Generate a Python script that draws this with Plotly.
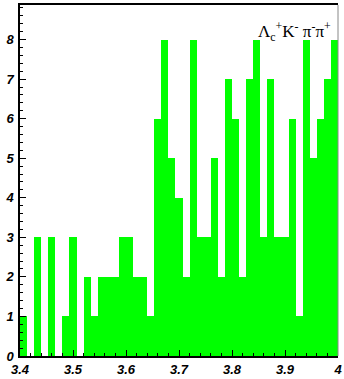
import plotly.graph_objects as go

x_min = 3.4
x_max = 4.0
n_bins = 45
counts = [1, 0, 3, 0, 3, 0, 1, 3, 0, 2, 1, 2, 2, 2, 3, 3, 2, 2, 1, 6, 8, 5, 4, 2, 8,
          3, 3, 5, 2, 7, 6, 2, 7, 8, 3, 7, 3, 3, 6, 1, 8, 5, 6, 7, 8]
x_ticks = [3.4, 3.5, 3.6, 3.7, 3.8, 3.9, 4.0]
x_tick_labels = ["3.4", "3.5", "3.6", "3.7", "3.8", "3.9", "4"]
y_ticks = [0, 1, 2, 3, 4, 5, 6, 7, 8]
y_tick_labels = ["0", "1", "2", "3", "4", "5", "6", "7", "8"]
label = "Λ<sub>c</sub><sup>+</sup>K<sup>-</sup> π<sup>-</sup>π<sup>+</sup>"

bw = (x_max - x_min) / n_bins
centers = [x_min + bw * (i + 0.5) for i in range(n_bins)]

fig = go.Figure()
fig.add_trace(go.Bar(x=centers, y=counts, width=bw, marker=dict(color="#00ff00", line=dict(width=0))))

tickfont = dict(family="Liberation Sans", size=13, color="black", weight="bold", style="italic")

fig.update_layout(
    width=344, height=379,
    margin=dict(l=20, r=2, t=5, b=19),
    paper_bgcolor="white", plot_bgcolor="white",
    showlegend=False,
    bargap=0,
    xaxis=dict(range=[x_min, x_max], tickvals=x_ticks,
               ticktext=["<b><i>%s</i></b>" % t for t in x_tick_labels],
               ticks="inside", ticklen=6, tickwidth=1, tickcolor="black",
               minor=dict(dtick=0.02, ticks="inside", ticklen=3, tickcolor="black", showgrid=False),
               showgrid=False, zeroline=False, showline=True, linecolor="black", linewidth=2,
               mirror=True,
               tickfont=tickfont, ticklabelstandoff=0, ticklabeloverflow="allow"),
    yaxis=dict(range=[0, 8.875], tickvals=y_ticks,
               ticktext=["<b><i>%s</i></b>" % t for t in y_tick_labels],
               ticks="inside", ticklen=6, tickwidth=1, tickcolor="black",
               minor=dict(dtick=0.2, ticks="inside", ticklen=3, tickcolor="black", showgrid=False),
               showgrid=False, zeroline=False, showline=True, linecolor="black", linewidth=1.5,
               tickfont=tickfont, ticklabelstandoff=2, ticklabeloverflow="allow"),
)

fig.add_shape(type="line", xref="paper", yref="paper", x0=1, x1=1, y0=0, y1=1,
              line=dict(color="#888888", width=1))

fig.add_annotation(text=label, xref="paper", yref="paper", x=0.985, y=0.925,
                   xanchor="right", yanchor="middle", showarrow=False,
                   font=dict(family="Liberation Serif", size=17, color="black"))

fig.write_html("out.html")
